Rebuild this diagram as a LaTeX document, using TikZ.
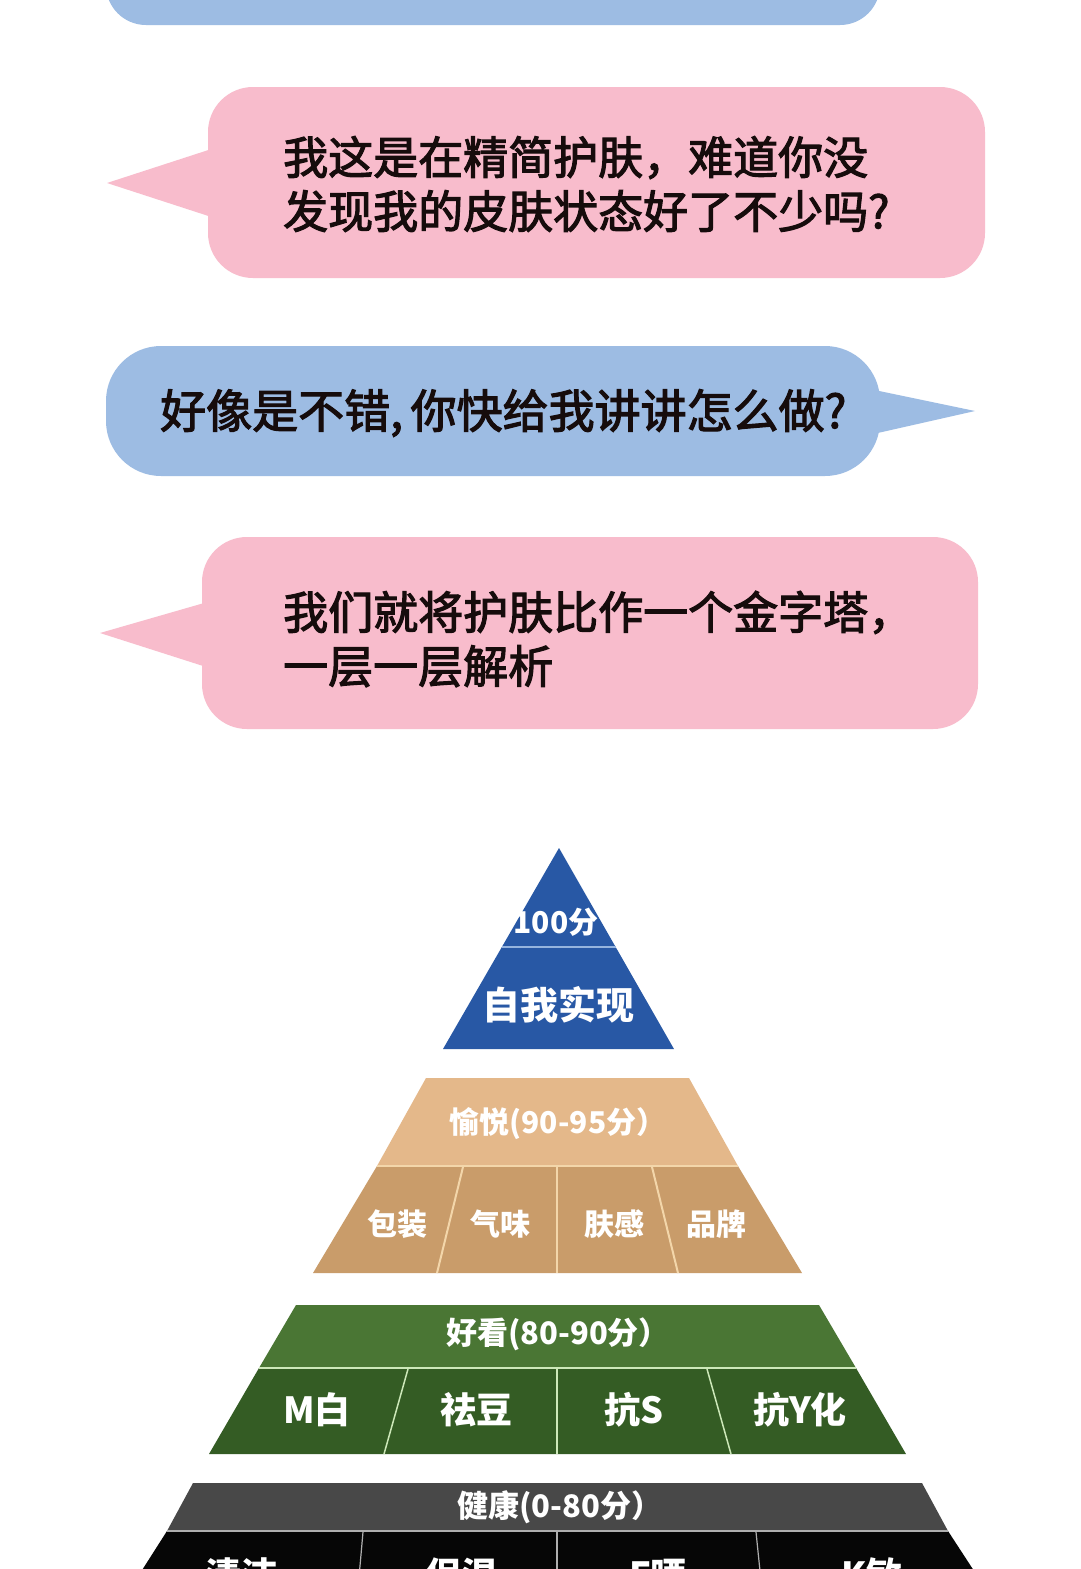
\documentclass[tikz,border=0pt]{standalone}
\usepackage{fontspec}
\newfontfamily\cjk{Noto Sans CJK SC}
\newfontfamily\cjkm{Noto Sans CJK SC}[FakeBold=2.5]
\definecolor{bubpink}{RGB}{248,188,204}
\definecolor{bubblue}{RGB}{157,188,227}
\definecolor{txtdark}{RGB}{22,12,12}
\definecolor{pyrblue}{RGB}{40,88,165}
\definecolor{pyrbluel}{RGB}{150,180,222}
\definecolor{tanup}{RGB}{228,184,138}
\definecolor{tanlow}{RGB}{201,156,106}
\definecolor{tanline}{RGB}{243,214,170}
\definecolor{grnup}{RGB}{74,118,52}
\definecolor{grnlow}{RGB}{52,92,36}
\definecolor{grnline}{RGB}{205,232,185}
\definecolor{grayup}{RGB}{72,72,72}
\definecolor{graylow}{RGB}{6,6,6}
\definecolor{grayline}{RGB}{175,175,175}
\tikzset{
  bubtext/.style={inner sep=0pt, text=txtdark, align=left, anchor=west,
    font=\cjkm\fontsize{45}{54}\selectfont},
  pyrlabel/.style={inner sep=0pt, text=white, font=\cjk\bfseries\fontsize{#1}{#1}\selectfont},
  pyrlabel/.default=32,
  sepline/.style={line width=2pt},
}
\begin{document}
\begin{tikzpicture}[x=1pt,y=-1pt]
\useasboundingbox (0,0) rectangle (1080,1569);
\clip (0,0) rectangle (1080,1569);
\fill[white] (0,0) rectangle (1080,1569);

% top cut-off blue bubble
\fill[bubblue, rounded corners=40pt] (106,-80) rectangle (880,25);

% bubble 1 (pink)
\fill[bubpink, rounded corners=45pt] (208,87) rectangle (985,278);
\fill[bubpink] (230,143) -- (107,183) -- (230,223) -- cycle;
\node[bubtext] (t1) at (283,184) {我这是在精简护肤，难道你没\\发现我的皮肤状态好了不少吗?};

% bubble 2 (blue)
\fill[bubblue, rounded corners=55pt] (106,346) rectangle (880,476);
\fill[bubblue] (860,387) -- (975,411) -- (860,437) -- cycle;
\node[bubtext, font=\cjkm\fontsize{46}{54}\selectfont] (t2) at (160,413) {好像是不错,\,你快给我讲讲怎么做?};

% bubble 3 (pink)
\fill[bubpink, rounded corners=45pt] (202,537) rectangle (978,729);
\fill[bubpink] (225,597) -- (100,633) -- (225,673) -- cycle;
\node[bubtext] (t3) at (283,639) {我们就将护肤比作一个金字塔，\\一层一层解析};

% ---- pyramid tier 1
\fill[pyrblue] (559,848) -- (674,1049) -- (443,1049) -- cycle;
\draw[pyrbluel, line width=1.5pt] (502,947) -- (616,947);
\node[pyrlabel=30] (p100) at (556,922) {100分};
\node[pyrlabel=38] (pself) at (558,1005) {自我实现};

% ---- tier 2
\fill[tanup] (426,1078) -- (689,1078) -- (738,1166) -- (377,1166) -- cycle;
\fill[tanlow] (377,1166) -- (738,1166) -- (802,1273) -- (313,1273) -- cycle;
\draw[tanline, sepline] (377,1166) -- (738,1166);
\draw[tanline, sepline] (463,1167) -- (437,1273);
\draw[tanline, sepline] (557,1167) -- (557,1273);
\draw[tanline, sepline] (652,1167) -- (678,1273);
\node[pyrlabel=30] (pyue) at (558,1124) {愉悦(90-95分）};
\node[pyrlabel=30] (pbz) at (397,1224) {包装};
\node[pyrlabel=30] (pqw) at (500,1224) {气味};
\node[pyrlabel=30] (pfg) at (614,1224) {肤感};
\node[pyrlabel=30] (ppp) at (716,1224) {品牌};

% ---- tier 3
\fill[grnup] (296,1305) -- (819,1305) -- (856,1368) -- (259,1368) -- cycle;
\fill[grnlow] (259,1368) -- (856,1368) -- (906,1454) -- (209,1454) -- cycle;
\draw[grnline, sepline] (259,1368) -- (856,1368);
\draw[grnline, line width=1.5pt] (408,1369) -- (384,1454);
\draw[grnline, line width=1.5pt] (557,1369) -- (557,1454);
\draw[grnline, line width=1.5pt] (707,1369) -- (731,1454);
\node[pyrlabel=31] (phk) at (558,1334) {好看(80-90分）};
\node[pyrlabel=36] (pmb) at (317,1410) {M白};
\node[pyrlabel=36] (pqd) at (476,1410) {祛豆};
\node[pyrlabel=36] (pks) at (634,1410) {抗S};
\node[pyrlabel=36] (pky) at (800,1410) {抗Y化};

% ---- tier 4
\fill[grayup] (193,1483) -- (922,1483) -- (948,1531) -- (167,1531) -- cycle;
\fill[graylow] (167,1531) -- (948,1531) -- (993,1600) -- (123,1600) -- cycle;
\draw[grayline, sepline] (167,1531) -- (948,1531);
\draw[grayline, line width=1.2pt] (363,1532) -- (357,1600);
\draw[grayline, line width=1.2pt] (557,1532) -- (557,1600);
\draw[grayline, line width=1.2pt] (756,1532) -- (763,1600);
\node[pyrlabel=31] (pjk) at (560,1507) {健康(0-80分）};
\node[pyrlabel=36, anchor=base] (pqj) at (241,1588) {清洁};
\node[pyrlabel=36, anchor=base] (pbs) at (461,1588) {保湿};
\node[pyrlabel=36, anchor=base] (pfs) at (658,1588) {F晒};
\node[pyrlabel=36, anchor=base] (pkm) at (872,1588) {K敏};
\end{tikzpicture}
\end{document}
